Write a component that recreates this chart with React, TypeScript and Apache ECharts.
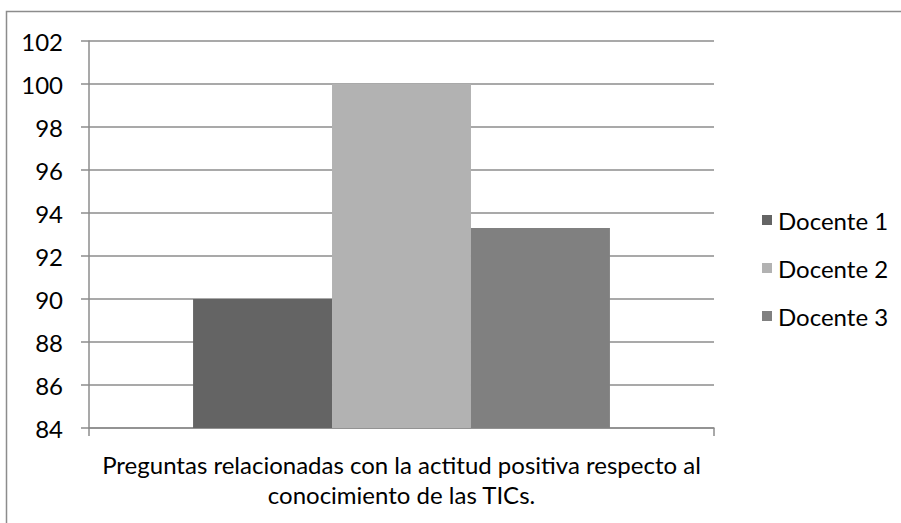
import React, { useEffect, useRef } from "react";
import * as echarts from "echarts";

const categories = ["Preguntas relacionadas con la actitud positiva respecto al\nconocimiento de las TICs."];
const seriesNames = ["Docente 1", "Docente 2", "Docente 3"];
const docente1 = [90];
const docente2 = [100];
const docente3 = [93.3];
const seriesColors = ["#646464", "#b2b2b2", "#808080"];
const yMin = 84;
const yMax = 102;
const yStep = 2;

const FONT = "Lato";
const FS = 24;

export default function App() {
  const ref = useRef<HTMLDivElement>(null);
  useEffect(() => {
    if (!ref.current) return;
    const chart = echarts.init(ref.current, undefined, { renderer: "svg" });
    const values = [docente1, docente2, docente3];
    chart.setOption({
      animation: false,
      backgroundColor: "#ffffff",
      textStyle: { fontFamily: FONT },
      graphic: [
        {
          type: "rect",
          shape: { x: 6.5, y: 11.5, width: 1000, height: 1000 },
          style: { fill: "none", stroke: "#8c8c8c", lineWidth: 1.5 },
          silent: true,
        },
      ],
      grid: { left: 89, right: 187, top: 41, bottom: 95, containLabel: false },
      legend: {
        orient: "vertical",
        left: 757,
        top: 200,
        itemWidth: 10,
        itemHeight: 10,
        itemGap: 18,
        icon: "rect",
        data: seriesNames,
        textStyle: {
          fontFamily: FONT,
          fontSize: FS,
          color: "#000000",
          lineHeight: 30,
          padding: [0, 0, 0, 1],
        },
      },
      xAxis: {
        type: "category",
        data: categories,
        axisLine: { lineStyle: { color: "#8c8c8c", width: 1.5 } },
        axisTick: { show: true, length: 8, lineStyle: { color: "#8c8c8c", width: 1.5 } },
        axisLabel: {
          fontFamily: FONT,
          fontSize: FS,
          color: "#000000",
          lineHeight: 30,
          margin: 21,
          interval: 0,
        },
      },
      yAxis: {
        type: "value",
        min: yMin,
        max: yMax,
        interval: yStep,
        axisLine: { show: true, lineStyle: { color: "#8c8c8c", width: 1.5 } },
        axisTick: { show: true, length: 8, lineStyle: { color: "#8c8c8c", width: 1.5 } },
        splitLine: { show: true, lineStyle: { color: "#8c8c8c", width: 1.5 } },
        axisLabel: {
          fontFamily: FONT,
          fontSize: FS,
          color: "#000000",
          margin: 26,
        },
      },
      series: seriesNames.map((name, i) => ({
        name,
        type: "bar",
        data: values[i],
        barGap: "0%",
        barCategoryGap: "33.3%",
        itemStyle: { color: seriesColors[i] },
      })),
    });
    return () => chart.dispose();
  }, []);
  return (
    <div
      ref={ref}
      style={{ position: "absolute", left: 0, top: 0, width: 901, height: 523 }}
    />
  );
}
